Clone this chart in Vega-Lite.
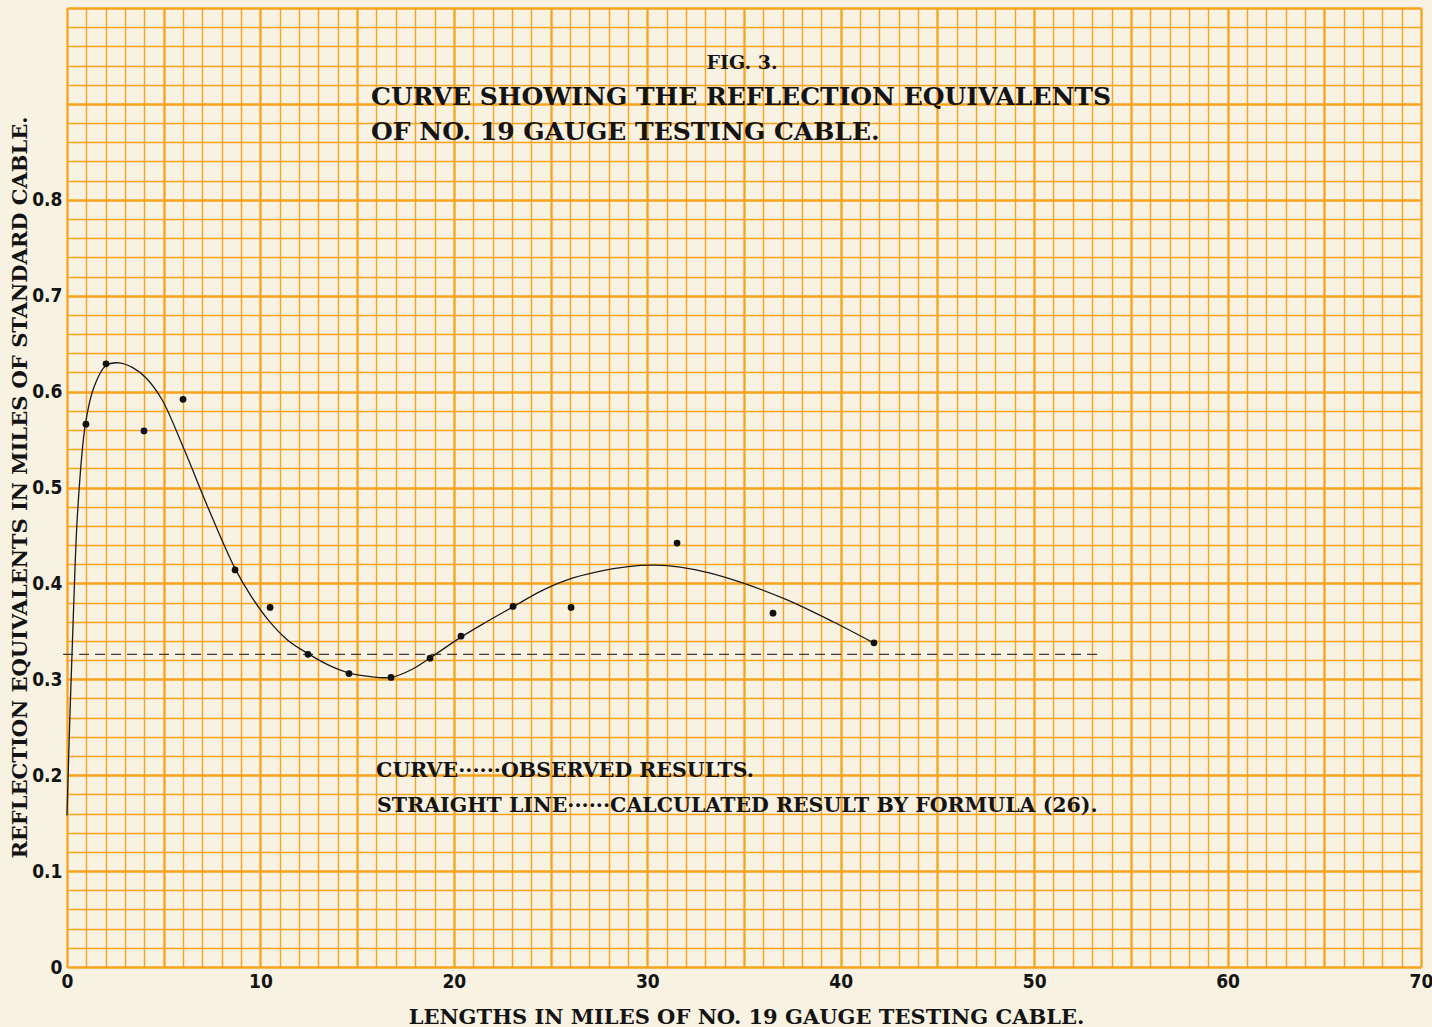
{
  "$schema": "https://vega.github.io/schema/vega-lite/v6.json",
  "width": 1354,
  "height": 959,
  "autosize": {"type": "none"},
  "padding": {"left": 67, "top": 8, "right": 11, "bottom": 60},
  "background": "#f8f2e3",
  "config": {
    "view": {"stroke": null},
    "axis": {
      "grid": true,
      "gridColor": "#f8a21d",
      "gridOpacity": 1,
      "ticks": false,
      "domain": false,
      "labelFont": "'DejaVu Sans Condensed', 'Liberation Sans Narrow', sans-serif",
      "labelFontWeight": "bold",
      "labelFontSize": 19,
      "labelColor": "#141414",
      "labelOverlap": false,
      "labelBound": false,
      "labelFlush": false,
      "titleFont": "'DejaVu Serif', serif",
      "titleFontWeight": "bold",
      "titleFontSize": 21,
      "titleColor": "#141414"
    }
  },
  "datasets": {
    "observed": [
      {"miles": 0.98, "equiv": 0.566},
      {"miles": 2.02, "equiv": 0.629},
      {"miles": 3.98, "equiv": 0.559},
      {"miles": 6.0, "equiv": 0.592},
      {"miles": 8.69, "equiv": 0.414},
      {"miles": 10.5, "equiv": 0.375},
      {"miles": 12.46, "equiv": 0.326},
      {"miles": 14.58, "equiv": 0.306},
      {"miles": 16.75, "equiv": 0.302},
      {"miles": 18.77, "equiv": 0.322},
      {"miles": 20.37, "equiv": 0.345},
      {"miles": 23.06, "equiv": 0.376},
      {"miles": 26.06, "equiv": 0.375},
      {"miles": 31.54, "equiv": 0.442},
      {"miles": 36.5, "equiv": 0.369},
      {"miles": 41.72, "equiv": 0.338}
    ],
    "curve": [
      {"miles": 0.0, "equiv": 0.158},
      {"miles": 0.15, "equiv": 0.262},
      {"miles": 0.33, "equiv": 0.368},
      {"miles": 0.55, "equiv": 0.475},
      {"miles": 0.95, "equiv": 0.566},
      {"miles": 1.4, "equiv": 0.605},
      {"miles": 2.0, "equiv": 0.627},
      {"miles": 2.7, "equiv": 0.63},
      {"miles": 3.4, "equiv": 0.625},
      {"miles": 4.1, "equiv": 0.614},
      {"miles": 4.9, "equiv": 0.592},
      {"miles": 6.07, "equiv": 0.539},
      {"miles": 7.27, "equiv": 0.48},
      {"miles": 8.65, "equiv": 0.417},
      {"miles": 9.51, "equiv": 0.387},
      {"miles": 10.4, "equiv": 0.362},
      {"miles": 11.4, "equiv": 0.341},
      {"miles": 12.44, "equiv": 0.327},
      {"miles": 13.5, "equiv": 0.315},
      {"miles": 14.51, "equiv": 0.307},
      {"miles": 15.6, "equiv": 0.303},
      {"miles": 16.75, "equiv": 0.302},
      {"miles": 17.8, "equiv": 0.31},
      {"miles": 18.82, "equiv": 0.323},
      {"miles": 20.37, "equiv": 0.344},
      {"miles": 21.7, "equiv": 0.36},
      {"miles": 23.1, "equiv": 0.376},
      {"miles": 24.5, "equiv": 0.392},
      {"miles": 25.9, "equiv": 0.404},
      {"miles": 27.4, "equiv": 0.412},
      {"miles": 29.0, "equiv": 0.4175},
      {"miles": 30.4, "equiv": 0.419},
      {"miles": 31.7, "equiv": 0.417},
      {"miles": 33.2, "equiv": 0.411},
      {"miles": 35.0, "equiv": 0.4},
      {"miles": 37.2, "equiv": 0.383},
      {"miles": 39.6, "equiv": 0.36},
      {"miles": 41.7, "equiv": 0.338}
    ],
    "formula": [
      {"miles": -0.2, "equiv": 0.326},
      {"miles": 53.5, "equiv": 0.326}
    ]
  },
  "encoding": {
    "x": {
      "type": "quantitative",
      "scale": {"domain": [0, 70], "nice": false, "zero": false},
      "axis": {
        "title": "LENGTHS IN MILES OF NO. 19 GAUGE TESTING CABLE.",
        "values": [0,1,2,3,4,5,6,7,8,9,10,11,12,13,14,15,16,17,18,19,20,21,22,23,24,25,26,27,28,29,30,31,32,33,34,35,36,37,38,39,40,41,42,43,44,45,46,47,48,49,50,51,52,53,54,55,56,57,58,59,60,61,62,63,64,65,66,67,68,69,70],
        "gridColor": "#f8a21d",
        "gridWidth": {"condition": {"test": "datum.value % 5 === 0", "value": 2.3}, "value": 1.4},
        "labelExpr": "datum.value % 10 === 0 ? datum.label : ''",
        "labelPadding": 5,
        "titleX": 679,
        "titleY": 56,
        "titleAlign": "center",
        "titleBaseline": "alphabetic"
      }
    },
    "y": {
      "type": "quantitative",
      "scale": {"domain": [0, 1], "nice": false, "zero": false},
      "axis": {
        "title": "REFLECTION EQUIVALENTS IN MILES OF STANDARD CABLE.",
        "values": [0,0.02,0.04,0.06,0.08,0.1,0.12,0.14,0.16,0.18,0.2,0.22,0.24,0.26,0.28,0.3,0.32,0.34,0.36,0.38,0.4,0.42,0.44,0.46,0.48,0.5,0.52,0.54,0.56,0.58,0.6,0.62,0.64,0.66,0.68,0.7,0.72,0.74,0.76,0.78,0.8,0.82,0.84,0.86,0.88,0.9,0.92,0.94,0.96,0.98,1],
        "gridColor": "#f8a21d",
        "gridWidth": {"condition": {"test": "round(datum.value * 50) % 5 === 0", "value": 2.3}, "value": 1.4},
        "labelExpr": "round(datum.value * 50) % 5 === 0 && datum.value < 0.85 ? (datum.value === 0 ? '0' : format(datum.value, '.1f')) : ''",
        "labelPadding": 5,
        "titleAngle": -90,
        "titleX": -47,
        "titleY": 479,
        "titleAlign": "center",
        "titleBaseline": "middle"
      }
    }
  },
  "layer": [
    {
      "data": {"name": "formula"},
      "mark": {"type": "line", "color": "#3a3a3a", "strokeWidth": 1.2, "strokeDash": [10, 6], "clip": false},
      "encoding": {"x": {"field": "miles"}, "y": {"field": "equiv"}}
    },
    {
      "data": {"name": "curve"},
      "mark": {"type": "line", "color": "#1a1a1a", "strokeWidth": 1.3, "interpolate": "catmull-rom"},
      "encoding": {"x": {"field": "miles"}, "y": {"field": "equiv"}}
    },
    {
      "data": {"name": "observed"},
      "mark": {"type": "point", "filled": true, "color": "#111111", "size": 46, "opacity": 1},
      "encoding": {"x": {"field": "miles"}, "y": {"field": "equiv"}}
    },
    {
      "data": {"values": [{"t": "FIG. 3."}]},
      "mark": {"type": "text", "font": "'DejaVu Serif', serif", "fontWeight": "bold", "fontSize": 19, "align": "center", "baseline": "alphabetic", "color": "#141414"},
      "encoding": {"x": {"datum": 34.9}, "y": {"datum": 0.936}, "text": {"field": "t"}}
    },
    {
      "data": {"values": [{"t": "CURVE SHOWING THE REFLECTION EQUIVALENTS"}]},
      "mark": {"type": "text", "font": "'DejaVu Serif', serif", "fontWeight": "bold", "fontSize": 25, "align": "left", "baseline": "alphabetic", "color": "#141414"},
      "encoding": {"x": {"datum": 15.72}, "y": {"datum": 0.899}, "text": {"field": "t"}}
    },
    {
      "data": {"values": [{"t": "OF NO. 19 GAUGE TESTING CABLE."}]},
      "mark": {"type": "text", "font": "'DejaVu Serif', serif", "fontWeight": "bold", "fontSize": 25, "align": "left", "baseline": "alphabetic", "color": "#141414"},
      "encoding": {"x": {"datum": 15.72}, "y": {"datum": 0.862}, "text": {"field": "t"}}
    },
    {
      "data": {"values": [{"t": "CURVE······OBSERVED RESULTS."}]},
      "mark": {"type": "text", "font": "'DejaVu Serif', serif", "fontWeight": "bold", "fontSize": 20.5, "align": "left", "baseline": "alphabetic", "color": "#141414"},
      "encoding": {"x": {"datum": 15.98}, "y": {"datum": 0.198}, "text": {"field": "t"}}
    },
    {
      "data": {"values": [{"t": "STRAIGHT LINE······CALCULATED RESULT BY FORMULA (26)."}]},
      "mark": {"type": "text", "font": "'DejaVu Serif', serif", "fontWeight": "bold", "fontSize": 20.5, "align": "left", "baseline": "alphabetic", "color": "#141414"},
      "encoding": {"x": {"datum": 16.03}, "y": {"datum": 0.1616}, "text": {"field": "t"}}
    }
  ]
}
